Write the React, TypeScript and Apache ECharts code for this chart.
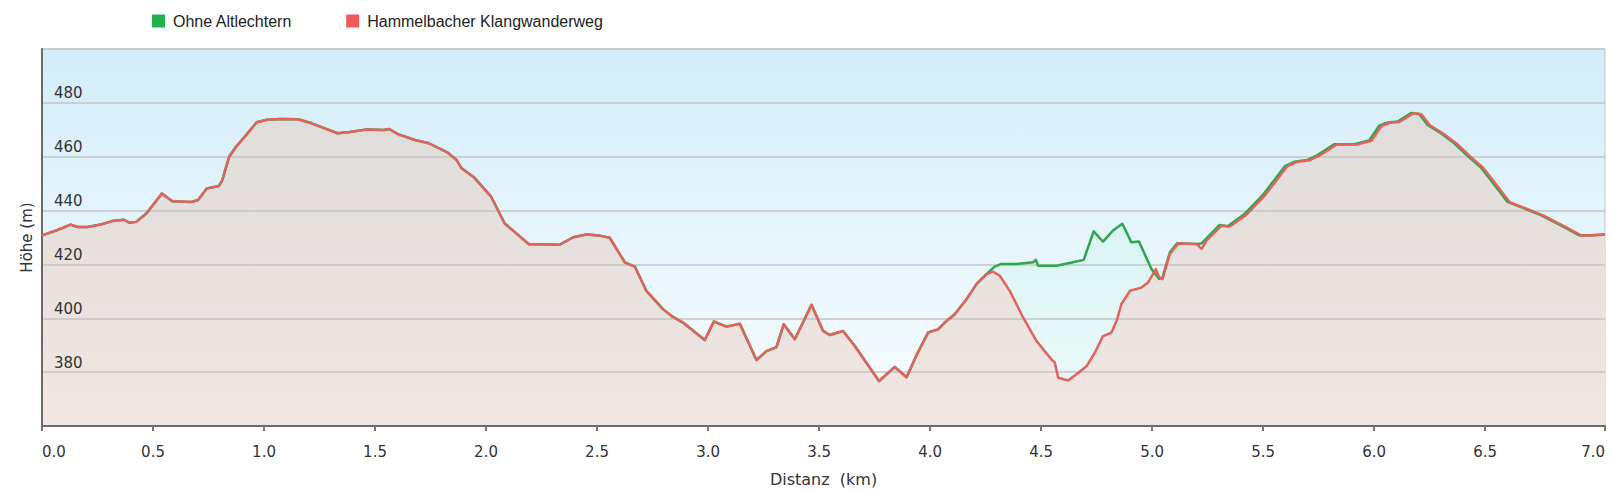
import React, { useEffect, useRef } from "react";
import * as echarts from "echarts";

// Shared part of both routes (km, m)
const sharedDistance = [
  0.0, 0.067, 0.129, 0.16, 0.207, 0.269, 0.315, 0.37, 0.393, 0.424, 0.47, 0.54, 0.587, 0.672, 0.703, 0.742,
  0.796, 0.812, 0.843, 0.874, 0.92, 0.967, 1.013, 1.075, 1.153, 1.215, 1.262, 1.331, 1.386, 1.463, 1.541, 1.564,
  1.603, 1.68, 1.742, 1.828, 1.867, 1.89, 1.944, 2.022, 2.084, 2.13, 2.193, 2.255, 2.332, 2.392, 2.452, 2.512,
  2.557, 2.625, 2.67, 2.722, 2.797, 2.842, 2.887, 2.985, 3.026, 3.083, 3.143, 3.218, 3.263, 3.308, 3.341, 3.391,
  3.466, 3.518, 3.548, 3.608, 3.661, 3.713, 3.77, 3.841, 3.894, 3.939, 3.991, 4.036, 4.074, 4.111, 4.164, 4.209,
  4.254,
];
const sharedHeight = [
  430.8, 432.7, 434.8, 433.9, 433.9, 434.9, 436.1, 436.6, 435.5, 435.8, 438.9, 446.3, 443.5, 443.2, 443.9, 448.2,
  449.1, 451.3, 460.0, 463.7, 468.1, 472.8, 473.7, 474.0, 473.9, 472.4, 470.9, 468.7, 469.2, 470.1, 469.9, 470.3,
  468.4, 466.2, 465.0, 461.5, 458.8, 455.7, 452.5, 445.3, 435.2, 432.0, 427.5, 427.5, 427.3, 430.1, 431.1, 430.7,
  429.9, 420.8, 419.2, 410.2, 403.4, 400.5, 398.4, 391.9, 398.8, 396.9, 398.0, 384.5, 387.8, 389.3, 397.8, 392.2,
  405.0, 395.3, 393.8, 395.3, 389.7, 383.5, 376.7, 381.9, 378.1, 386.3, 394.7, 395.9, 399.0, 401.5, 407.1, 412.7,
  416.4,
];

// Hammelbacher Klangwanderweg, rest of the route
const redDistance = [
  4.284, 4.314, 4.359, 4.419, 4.479, 4.547, 4.562, 4.577, 4.622, 4.659, 4.705, 4.742, 4.779, 4.817, 4.84, 4.862,
  4.9, 4.952, 4.982, 5.017, 5.032, 5.047, 5.08, 5.118, 5.2, 5.223, 5.245, 5.313, 5.35, 5.425, 5.508, 5.56, 5.608,
  5.65, 5.71, 5.755, 5.83, 5.921, 5.988, 6.033, 6.071, 6.116, 6.176, 6.213, 6.251, 6.311, 6.371, 6.431, 6.491,
  6.536, 6.611, 6.686, 6.761, 6.851, 6.934, 6.979, 7.04,
];
const redHeight = [
  417.3, 415.8, 410.2, 400.3, 391.6, 384.7, 383.5, 377.9, 376.9, 379.2, 382.2, 387.2, 393.4, 394.7, 399.0, 405.3,
  410.2, 411.4, 413.3, 418.3, 415.2, 414.6, 423.9, 427.8, 427.6, 425.8, 428.8, 434.4, 434.1, 438.5, 445.6, 451.2,
  456.4, 458.0, 458.7, 460.5, 464.5, 464.5, 465.9, 471.4, 472.6, 473.0, 476.1, 475.8, 471.7, 468.6, 464.9, 460.2,
  455.9, 451.2, 443.1, 440.7, 438.2, 434.4, 430.7, 430.7, 431.1,
];

// Ohne Altlechtern, rest of the route
const greenDistance = [
  4.291, 4.321, 4.389, 4.464, 4.476, 4.487, 4.569, 4.644, 4.692, 4.737, 4.779, 4.824, 4.866, 4.907, 4.941, 4.997,
  5.032, 5.047, 5.08, 5.114, 5.2, 5.223, 5.303, 5.34, 5.415, 5.498, 5.55, 5.598, 5.64, 5.7, 5.745, 5.82, 5.911,
  5.978, 6.023, 6.061, 6.106, 6.166, 6.203, 6.241, 6.301, 6.361, 6.421, 6.481, 6.526, 6.601, 6.676, 6.751, 6.841,
  6.924, 6.969, 7.04,
];
const greenHeight = [
  419.2, 420.2, 420.2, 420.8, 421.7, 419.5, 419.5, 420.8, 421.7, 432.3, 428.5, 432.6, 435.1, 428.2, 428.5, 418.3,
  414.6, 415.2, 424.5, 427.9, 427.6, 427.8, 434.6, 434.2, 438.6, 445.7, 451.3, 456.5, 458.1, 458.8, 460.6, 464.6,
  464.6, 466.0, 471.5, 472.7, 473.1, 476.2, 475.9, 471.8, 468.7, 465.0, 460.3, 456.0, 451.3, 443.2, 440.8, 438.3,
  434.5, 430.8, 430.8, 431.1,
];

const xTickValues = [0, 0.5, 1, 1.5, 2, 2.5, 3, 3.5, 4, 4.5, 5, 5.5, 6, 6.5, 7.04];
const seriesNames = ["Ohne Altlechtern", "Hammelbacher Klangwanderweg"];

const toPairs = (xs: number[], ys: number[]) => xs.map((x, i) => [x, ys[i]]);

export default function App() {
  const ref = useRef<HTMLDivElement>(null);

  useEffect(() => {
    if (!ref.current) return;
    const chart = echarts.init(ref.current, null, { renderer: "svg" });

    const redData = toPairs(sharedDistance.concat(redDistance), sharedHeight.concat(redHeight));
    const greenData = toPairs(sharedDistance.concat(greenDistance), sharedHeight.concat(greenHeight));

    const axisFont = "DejaVu Sans";

    chart.setOption({
      animation: false,
      legend: {
        left: 147,
        top: 8,
        icon: "rect",
        itemWidth: 13,
        itemHeight: 13,
        itemGap: 54,
        data: seriesNames,
        textStyle: { fontFamily: "Liberation Sans", fontSize: 16, color: "#222", padding: [0, 0, 0, 3] },
      },
      grid: {
        left: 42,
        right: 7,
        top: 49,
        bottom: 68,
        show: true,
        borderColor: "#c6c6c6",
        borderWidth: 1,
        backgroundColor: new echarts.graphic.LinearGradient(0, 0, 0, 1, [
          { offset: 0, color: "#d3edf9" },
          { offset: 1, color: "#f9fdff" },
        ]),
      },
      xAxis: {
        type: "value",
        min: 0,
        max: 7.04,
        z: 10,
        name: "Distanz  (km)",
        nameLocation: "middle",
        nameGap: 45,
        nameTextStyle: { fontFamily: axisFont, fontSize: 16, color: "#333" },
        axisLine: { show: true, lineStyle: { color: "#6a6a6a", width: 2 } },
        axisTick: { show: true, length: 5, customValues: xTickValues, lineStyle: { color: "#777", width: 2 } },
        axisLabel: {
          customValues: xTickValues,
          formatter: (v: number) => v.toFixed(1),
          fontFamily: axisFont,
          fontSize: 15,
          color: "#333",
          margin: 18,
          alignMinLabel: "left",
          alignMaxLabel: "right",
        },
        splitLine: { show: false },
      },
      yAxis: {
        type: "value",
        min: 360,
        max: 500,
        interval: 20,
        z: 10,
        name: "Höhe (m)",
        nameLocation: "middle",
        nameRotate: 90,
        nameGap: -2,
        nameTextStyle: { fontFamily: axisFont, fontSize: 15, color: "#333" },
        axisLine: { show: true, lineStyle: { color: "#6a6a6a", width: 2 } },
        axisTick: { show: false },
        axisLabel: {
          inside: true,
          margin: 12,
          showMinLabel: false,
          showMaxLabel: false,
          fontFamily: axisFont,
          fontSize: 15,
          color: "#333",
          verticalAlign: "bottom",
          padding: [0, 0, 2, 0],
        },
        splitLine: { show: true, lineStyle: { color: "#c4c4c4", width: 1.5 } },
      },
      series: [
        {
          name: seriesNames[0],
          type: "line",
          data: greenData,
          z: 2,
          showSymbol: false,
          symbol: "none",
          silent: true,
          itemStyle: { color: "#22b14c" },
          lineStyle: { width: 0, opacity: 0 },
          areaStyle: { color: "rgba(150, 235, 190, 0.16)" },
        },
        {
          name: seriesNames[1],
          type: "line",
          data: redData,
          z: 3,
          showSymbol: false,
          symbol: "none",
          silent: true,
          itemStyle: { color: "#f05a5a" },
          lineStyle: { width: 0, opacity: 0 },
          areaStyle: {
            opacity: 1,
            color: new echarts.graphic.LinearGradient(0, 0, 0, 1, [
              { offset: 0, color: "#dfdddb" },
              { offset: 1, color: "#f2e6e2" },
            ]),
          },
        },
        {
          name: seriesNames[0],
          type: "line",
          data: greenData,
          z: 11,
          showSymbol: false,
          symbol: "none",
          silent: true,
          itemStyle: { color: "#22b14c" },
          lineStyle: { color: "#2aa84a", width: 2.5, join: "round" },
        },
        {
          name: seriesNames[1],
          type: "line",
          data: redData,
          z: 12,
          showSymbol: false,
          symbol: "none",
          silent: true,
          itemStyle: { color: "#f05a5a" },
          lineStyle: { color: "#e2625d", width: 2.5, join: "round" },
        },
      ],
    });

    return () => chart.dispose();
  }, []);

  return (
    <div
      ref={ref}
      style={{ position: "absolute", left: 0, top: 0, width: 1612, height: 494, background: "#fff" }}
    />
  );
}
